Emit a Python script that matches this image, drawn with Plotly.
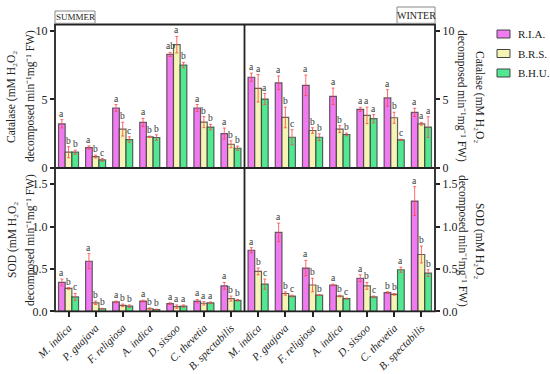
import plotly.graph_objects as go

species = ["M. indica", "P. guajava", "F. religiosa", "A. indica", "D. sissoo", "C. thevetia", "B. spectabilis"]
series = ["R.I.A.", "B.R.S.", "B.H.U."]
colors = ["#F07AF0", "#F4F5B5", "#52E891"]

# Catalase, summer
cat_sum = {
    "R.I.A.": [3.22, 1.49, 4.37, 3.32, 8.27, 4.37, 2.51],
    "B.R.S.": [1.15, 0.83, 2.83, 2.27, 8.98, 3.34, 1.73],
    "B.H.U.": [1.15, 0.59, 2.07, 2.22, 7.49, 2.98, 1.44],
}
cat_sum_err = {
    "R.I.A.": [0.3, 0.12, 0.25, 0.3, 0.15, 0.25, 0.4],
    "B.R.S.": [0.4, 0.1, 0.5, 0.05, 0.6, 0.4, 0.25],
    "B.H.U.": [0.15, 0.1, 0.2, 0.2, 0.2, 0.2, 0.15],
}
cat_sum_lbl = {
    "R.I.A.": ["a", "a", "a", "a", "ab", "a", "a"],
    "B.R.S.": ["b", "b", "b", "b", "a", "b", "b"],
    "B.H.U.": ["b", "c", "c", "b", "b", "b", "b"],
}
# Catalase, winter
cat_win = {
    "R.I.A.": [6.61, 6.20, 6.02, 5.22, 4.27, 5.10, 4.05],
    "B.R.S.": [5.80, 3.68, 2.73, 2.83, 3.83, 3.66, 3.22],
    "B.H.U.": [5.02, 2.24, 2.24, 2.44, 3.59, 2.05, 2.98],
}
cat_win_err = {
    "R.I.A.": [0.3, 0.5, 0.75, 0.6, 0.15, 0.6, 0.3],
    "B.R.S.": [1.0, 0.75, 0.2, 0.25, 0.6, 0.4, 0.1],
    "B.H.U.": [0.4, 0.55, 0.25, 0.1, 0.3, 0.05, 0.75],
}
cat_win_lbl = {
    "R.I.A.": ["a", "a", "a", "a", "a", "a", "a"],
    "B.R.S.": ["a", "b", "b", "b", "a", "b", "a"],
    "B.H.U.": ["a", "c", "b", "b", "a", "c", "a"],
}
# SOD, summer
sod_sum = {
    "R.I.A.": [0.34, 0.59, 0.11, 0.12, 0.09, 0.12, 0.30],
    "B.R.S.": [0.27, 0.10, 0.07, 0.03, 0.055, 0.095, 0.15],
    "B.H.U.": [0.17, 0.03, 0.06, 0.02, 0.06, 0.10, 0.13],
}
sod_sum_err = {
    "R.I.A.": [0.04, 0.09, 0.01, 0.01, 0.01, 0.02, 0.04],
    "B.R.S.": [0.01, 0.02, 0.015, 0.01, 0.02, 0.02, 0.03],
    "B.H.U.": [0.04, 0.005, 0.015, 0.005, 0.015, 0.01, 0.01],
}
sod_sum_lbl = {
    "R.I.A.": ["a", "a", "a", "a", "a", "a", "a"],
    "B.R.S.": ["b", "b", "b", "b", "a", "a", "b"],
    "B.H.U.": ["c", "b", "b", "b", "a", "a", "b"],
}
# SOD, winter
sod_win = {
    "R.I.A.": [0.72, 0.93, 0.51, 0.31, 0.39, 0.22, 1.30],
    "B.R.S.": [0.47, 0.21, 0.31, 0.18, 0.30, 0.20, 0.67],
    "B.H.U.": [0.32, 0.18, 0.19, 0.15, 0.17, 0.49, 0.45],
}
sod_win_err = {
    "R.I.A.": [0.03, 0.11, 0.09, 0.01, 0.04, 0.01, 0.17],
    "B.R.S.": [0.04, 0.02, 0.08, 0.01, 0.04, 0.01, 0.1],
    "B.H.U.": [0.06, 0.01, 0.005, 0.005, 0.01, 0.03, 0.04],
}
sod_win_lbl = {
    "R.I.A.": ["a", "a", "a", "a", "a", "b", "a"],
    "B.R.S.": ["b", "b", "b", "b", "b", "b", "b"],
    "B.H.U.": ["c", "c", "b", "c", "c", "a", "b"],
}

cat_ticks = [0, 5, 10]
sod_ticks = [0.0, 0.5, 1.0, 1.5]
sod_ticktext = ["0.0", "0.5", "1.0", "1.5"]

FONT = "Liberation Serif"
W, H = 550, 374

def px(x):
    return x / W

def py(y):
    return 1 - y / H

XL = [px(55), px(244.5)]
XR = [px(244.5), px(435)]
YT = [py(168), py(24.5)]
YB = [py(311.3), py(168)]

fig = go.Figure()

panels = [
    ("x", "y", cat_sum, cat_sum_err, cat_sum_lbl),
    ("x2", "y2", cat_win, cat_win_err, cat_win_lbl),
    ("x3", "y3", sod_sum, sod_sum_err, sod_sum_lbl),
    ("x4", "y4", sod_win, sod_win_err, sod_win_lbl),
]

annotations = []
bar_px = 27.07 * (1 - 0.26) / 3
for pi, (xa, ya, vals, errs, lbls) in enumerate(panels):
    for si, s in enumerate(series):
        fig.add_trace(go.Bar(
            x=species, y=vals[s], name=s, xaxis=xa, yaxis=ya,
            marker=dict(color=colors[si], line=dict(color="rgba(50,50,50,0.75)", width=1.2)),
            error_y=dict(type="data", array=errs[s], color="rgba(255,70,70,0.8)", thickness=1, width=1.5),
            showlegend=False, legendgroup=s,
        ))
        for ci, sp in enumerate(species):
            annotations.append(dict(
                x=sp, y=vals[s][ci] + errs[s][ci], xref=xa, yref=ya,
                text=lbls[s][ci], showarrow=False, xanchor="center", yanchor="bottom",
                xshift=(si - 1) * bar_px, yshift=-1,
                font=dict(family=FONT, size=9.5, color="#333"),
            ))

tick_font = dict(family=FONT, size=12, color="#222")
xtick_font = dict(family=FONT, size=11, color="#222")
xcommon = dict(type="category", categoryorder="array", categoryarray=species, automargin=False,
               range=[-0.5, 6.5], showgrid=False, zeroline=False, showline=False)
ycommon = dict(showgrid=False, zeroline=False, showline=False, ticks="outside", automargin=False,
               ticklen=4, tickwidth=1.5, tickcolor="#222", tickfont=tick_font)

ticktext = ["<i>%s</i>" % s for s in species]

fig.update_layout(
    width=W, height=H, margin=dict(l=0, r=0, t=0, b=0, autoexpand=False),
    paper_bgcolor="white", plot_bgcolor="white",
    barmode="group", bargap=0.26, bargroupgap=0,
    font=dict(family=FONT, color="#222"),
    showlegend=False,
    xaxis=dict(domain=XL, anchor="y", showticklabels=False, ticks="", **xcommon),
    xaxis2=dict(domain=XR, anchor="y2", showticklabels=False, ticks="", **xcommon),
    xaxis3=dict(domain=XL, anchor="y3", ticks="outside", ticklen=5, tickwidth=1.5, tickcolor="#222",
                tickangle=-45, tickmode="array", tickvals=species, ticktext=ticktext,
                tickfont=xtick_font, **xcommon),
    xaxis4=dict(domain=XR, anchor="y4", ticks="outside", ticklen=5, tickwidth=1.5, tickcolor="#222",
                tickangle=-45, tickmode="array", tickvals=species, ticktext=ticktext,
                tickfont=xtick_font, **xcommon),
    yaxis=dict(domain=YT, anchor="x", range=[0, 10.45], tickvals=cat_ticks, **ycommon),
    yaxis2=dict(domain=YT, anchor="x2", side="right", range=[0, 10.45], tickvals=cat_ticks, **ycommon),
    yaxis3=dict(domain=YB, anchor="x3", range=[0, 1.69], tickvals=sod_ticks, ticktext=sod_ticktext, **ycommon),
    yaxis4=dict(domain=YB, anchor="x4", side="right", range=[0, 1.69], tickvals=sod_ticks, ticktext=sod_ticktext, **ycommon),
)

line = dict(color="#222", width=1.8)
shapes = [
    dict(type="rect", xref="paper", yref="paper", x0=px(55), x1=px(435), y0=py(311.3), y1=py(24.5), line=line),
    dict(type="line", xref="paper", yref="paper", x0=px(244.5), x1=px(244.5), y0=py(311.3), y1=py(24.5), line=line),
    dict(type="line", xref="paper", yref="paper", x0=px(55), x1=px(435), y0=py(168), y1=py(168), line=line),
    dict(type="rect", xref="paper", yref="paper", x0=px(55), x1=px(95), y0=py(23.3), y1=py(11), line=dict(color="#888", width=1)),
    dict(type="rect", xref="paper", yref="paper", x0=px(397), x1=px(435), y0=py(23.3), y1=py(7), line=dict(color="#888", width=1)),
]

# legend (swatches + labels)
legend_rows = [34, 53.5, 73]
for si, s in enumerate(series):
    yc = legend_rows[si]
    shapes.append(dict(type="rect", xref="paper", yref="paper", x0=px(497), x1=px(510),
                       y0=py(yc + 4), y1=py(yc - 4), fillcolor=colors[si],
                       line=dict(color="#444", width=1)))
    annotations.append(dict(x=px(516), y=py(yc), xref="paper", yref="paper", text=s,
                            showarrow=False, xanchor="left", yanchor="middle",
                            font=dict(family=FONT, size=11, color="#222")))

title_font = dict(family=FONT, size=11.5, color="#222")
line1_cat = "Catalase (mM H\u2082O\u2082"
line1_sod = "SOD (mM H\u2082O\u2082"
line2 = "decomposed min\u207b\u00b9mg\u207b\u00b9 FW)"
common = dict(xref="paper", yref="paper", showarrow=False, xanchor="center", yanchor="middle")
annotations += [
    dict(x=px(75), y=py(17.2), text="SUMMER", font=dict(family=FONT, size=9, color="#222"), **common),
    dict(x=px(416), y=py(15.2), text="WINTER", font=dict(family=FONT, size=10, color="#222"), **common),
    # left titles (read bottom-to-top)
    dict(x=px(12), y=py(97), text=line1_cat, textangle=-90, font=title_font, **common),
    dict(x=px(30), y=py(96), text=line2, textangle=-90, font=title_font, **common),
    dict(x=px(12), y=py(240), text=line1_sod, textangle=-90, font=title_font, **common),
    dict(x=px(30), y=py(240), text=line2, textangle=-90, font=title_font, **common),
    # right titles (read top-to-bottom)
    dict(x=px(479), y=py(97), text=line1_cat, textangle=90, font=title_font, **common),
    dict(x=px(462), y=py(96), text=line2, textangle=90, font=title_font, **common),
    dict(x=px(480), y=py(241), text=line1_sod, textangle=90, font=title_font, **common),
    dict(x=px(463), y=py(241), text=line2, textangle=90, font=title_font, **common),
]

fig.update_layout(shapes=shapes, annotations=annotations)
fig.write_html("out.html", config={"displayModeBar": False},
               post_script="document.body.style.margin='0';document.body.style.overflow='hidden';")
